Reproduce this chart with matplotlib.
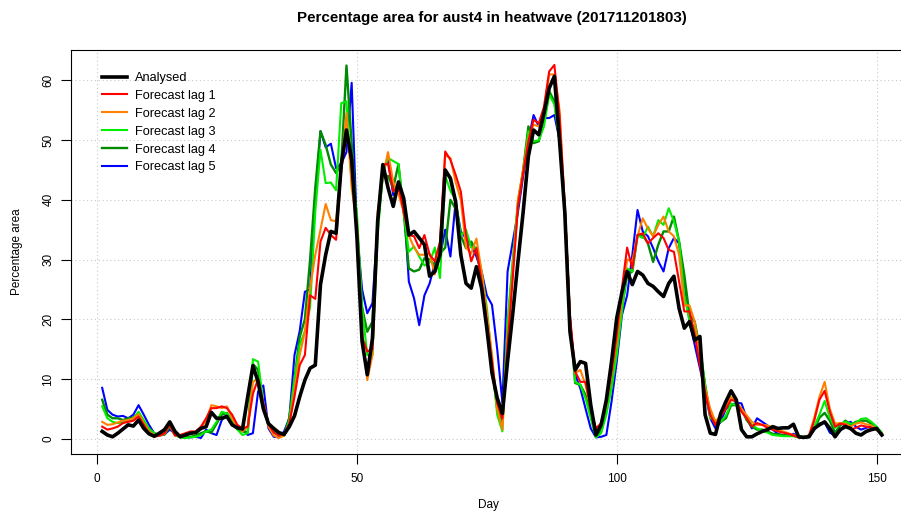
import numpy as np
import matplotlib
matplotlib.use("Agg")
import matplotlib.pyplot as plt

# ---------------------------------------------------------------
# data, day 1..151
# ---------------------------------------------------------------
days = list(range(1, 152))

analysed = [
    1.2, 0.6, 0.3, 0.9, 1.6, 2.3, 2.1, 3.1, 1.7, 0.8,
    0.4, 0.9, 1.5, 2.8, 1.2, 0.3, 0.6, 0.9, 1.0, 1.7,
    2.0, 4.4, 3.4, 3.4, 3.7, 2.3, 1.8, 1.6, 7.0, 12.2,
    9.5, 5.0, 2.5, 1.7, 1.0, 0.7, 2.0, 3.8, 7.0, 9.8,
    11.8, 12.3, 25.8, 30.8, 34.7, 34.4, 45.9, 51.7, 46.7, 34.0,
    16.3, 10.7, 16.8, 36.4, 45.9, 42.0, 38.9, 43.0, 40.3, 34.1,
    34.7, 33.6, 32.5, 27.2, 28.0, 30.8, 45.0, 43.6, 39.7, 30.8,
    26.0, 25.2, 28.8, 25.2, 18.5, 11.0, 6.8, 4.2, 13.0, 21.0,
    29.7, 38.0, 47.3, 51.7, 50.9, 54.5, 58.7, 60.7, 49.8, 38.0,
    17.9, 11.5, 12.9, 12.6, 5.6, 0.6, 2.3, 6.5, 12.9, 20.2,
    24.5, 28.0, 25.8, 28.0, 27.4, 26.0, 25.5, 24.6, 23.8, 26.0,
    27.2, 21.8, 18.5, 19.6, 16.5, 17.1, 4.0, 0.9, 0.7, 4.2,
    6.2, 8.0, 6.5, 1.5, 0.3, 0.3, 0.8, 1.2, 1.5, 2.0,
    1.7, 1.8, 1.8, 2.4, 0.3, 0.2, 0.3, 1.7, 2.3, 2.8,
    1.7, 0.3, 1.5, 2.0, 1.7, 0.9, 0.6, 1.2, 1.5, 1.7,
    0.6]

lag1 = [
    2.0, 1.5, 1.7, 2.0, 2.6, 2.8, 3.0, 3.7, 2.3, 0.9,
    0.3, 0.5, 0.9, 2.3, 0.5, 0.6, 0.9, 1.2, 1.2, 2.0,
    3.4, 5.1, 5.1, 5.4, 5.1, 4.0, 2.3, 1.7, 2.0, 7.5,
    10.0, 6.0, 2.5, 1.0, 0.5, 0.8, 2.5, 7.0, 12.3, 14.0,
    24.0, 23.4, 33.0, 35.3, 34.1, 33.3, 45.0, 51.2, 46.0, 35.0,
    17.0, 14.6, 15.0, 36.0, 45.9, 46.0, 41.4, 42.5, 38.0, 34.1,
    33.9, 31.9, 34.1, 30.8, 29.7, 33.0, 48.1, 46.7, 44.2, 41.4,
    34.1, 29.7, 31.9, 26.3, 19.6, 12.9, 6.0, 3.4, 15.7, 27.0,
    39.0, 44.5, 49.8, 53.4, 52.8, 55.6, 61.5, 62.6, 54.0, 39.0,
    20.7, 11.2, 9.5, 9.5, 5.0, 1.7, 2.6, 6.2, 11.2, 17.4,
    25.2, 32.0, 28.5, 34.1, 34.4, 32.7, 33.6, 34.4, 33.6, 31.6,
    31.3, 26.3, 21.3, 21.3, 17.4, 12.3, 7.8, 3.9, 2.3, 3.7,
    5.0, 6.5, 6.2, 4.5, 3.4, 2.0, 2.6, 2.3, 1.8, 1.5,
    1.2, 1.0, 0.8, 0.5, 0.2, 0.2, 0.5, 3.0, 6.5, 8.0,
    4.5, 2.0, 2.5, 2.3, 1.5, 1.8, 2.2, 2.0, 1.8, 1.5,
    0.8]

lag2 = [
    2.8, 2.3, 2.4, 2.7, 3.0, 3.1, 3.4, 4.1, 2.6, 1.2,
    0.6, 0.5, 0.8, 2.4, 0.6, 0.5, 0.7, 1.0, 1.1, 1.8,
    3.0, 5.6, 5.4, 5.1, 5.4, 3.4, 2.0, 1.2, 2.0, 9.5,
    10.0, 5.5, 2.0, 0.5, 0.1, 0.5, 2.5, 8.0, 14.0, 17.9,
    25.2, 30.8, 35.0, 39.3, 36.6, 36.4, 45.0, 54.5, 42.0, 36.0,
    18.0, 9.8, 14.0, 38.0, 44.0, 48.0, 43.0, 41.0, 38.0, 34.0,
    32.0, 30.8, 30.8, 31.0, 27.5, 32.0, 47.5, 47.0, 43.0, 40.0,
    32.0, 31.0, 33.5, 28.0, 21.0, 14.0, 5.0, 1.5, 16.8, 28.0,
    40.0, 45.0, 50.3, 52.6, 52.3, 55.0, 61.0, 61.0, 55.0, 39.0,
    20.0, 11.0, 11.5, 9.0, 5.0, 0.6, 2.3, 5.6, 10.7, 16.3,
    23.5, 30.0, 29.7, 33.9, 36.9, 35.2, 33.9, 35.8, 37.2, 34.7,
    33.9, 30.8, 22.3, 22.3, 19.6, 14.0, 8.4, 5.0, 2.8, 3.9,
    5.6, 7.0, 6.2, 5.0, 3.9, 2.8, 2.3, 2.3, 2.2, 1.8,
    1.5, 1.2, 0.9, 0.6, 0.2, 0.1, 0.6, 3.5, 7.0, 9.5,
    5.0, 2.5, 2.6, 2.5, 2.0, 2.5, 2.7, 2.4, 2.2, 1.6,
    0.8]

lag3 = [
    5.4, 3.4, 2.8, 2.6, 2.7, 3.1, 3.4, 4.5, 3.1, 1.7,
    0.9, 0.6, 0.9, 2.3, 0.6, 0.2, 0.1, 0.2, 0.3, 0.6,
    1.2, 1.5, 2.8, 4.5, 4.2, 2.8, 1.5, 0.6, 0.9, 13.3,
    12.9, 6.0, 2.5, 1.0, 0.5, 0.5, 3.0, 10.0, 15.7, 18.0,
    22.0, 38.0, 48.4, 42.8, 42.9, 41.6, 56.2, 56.5, 43.0, 38.0,
    22.0, 14.0, 14.0, 34.0, 44.5, 47.0, 46.5, 46.0, 38.0, 31.3,
    32.2, 30.5, 29.0, 29.5, 32.0, 26.9, 44.0, 41.5, 40.0, 34.0,
    35.0, 32.0, 32.0, 28.0, 22.0, 13.0, 4.0, 1.2, 19.6, 30.0,
    40.0, 45.0, 51.5, 49.8, 50.0, 52.3, 57.6, 56.0, 50.0, 38.6,
    20.0, 9.5, 9.0, 6.7, 3.4, 0.2, 0.9, 4.0, 8.4, 14.0,
    21.3, 28.5, 28.0, 34.1, 33.6, 35.5, 33.9, 36.6, 35.8, 38.6,
    36.4, 33.0, 24.1, 19.6, 18.5, 15.7, 9.0, 3.4, 3.1, 2.8,
    3.9, 5.9, 5.6, 4.8, 3.4, 2.3, 1.7, 1.3, 1.0, 0.6,
    0.5, 0.4, 0.4, 0.4, 0.2, 0.2, 0.5, 2.0, 4.0, 6.3,
    3.5, 1.8, 2.5, 2.8, 2.5, 2.6, 3.3, 3.4, 2.8, 2.0,
    1.0]

lag4 = [
    6.5, 4.0, 3.4, 3.4, 3.1, 3.4, 3.5, 4.2, 2.8, 1.5,
    0.8, 0.5, 0.7, 2.0, 0.6, 0.3, 0.2, 0.3, 0.5, 0.9,
    1.2, 1.0, 2.5, 4.0, 4.3, 2.8, 1.7, 1.2, 1.0, 12.5,
    11.5, 5.5, 2.3, 1.2, 0.6, 0.5, 3.5, 10.0, 17.0, 20.0,
    30.0, 42.0, 51.5, 49.2, 45.9, 44.5, 46.0, 62.5, 49.5, 36.0,
    22.0, 17.9, 19.6, 36.0, 44.0, 44.0, 42.0, 46.0, 38.0, 28.5,
    28.0, 28.3, 30.2, 30.0, 29.0, 31.0, 32.0, 40.0, 38.5, 34.0,
    31.9, 33.0, 31.5, 27.0, 20.0, 12.0, 5.0, 2.8, 19.0, 29.0,
    39.0, 45.0, 52.3, 49.5, 49.8, 53.1, 58.2, 56.5, 50.0, 38.6,
    20.0, 9.3, 9.0, 7.3, 3.9, 0.3, 1.2, 5.0, 9.0, 15.1,
    21.8, 27.4, 28.0, 34.1, 34.1, 32.7, 29.6, 32.5, 34.7, 34.7,
    37.2, 33.0, 27.4, 20.7, 19.6, 15.0, 9.0, 4.0, 2.3, 2.8,
    3.4, 5.6, 5.6, 5.0, 3.1, 2.0, 1.5, 1.5, 1.2, 0.8,
    0.7, 0.6, 0.5, 0.5, 0.3, 0.3, 0.5, 1.5, 3.5, 4.3,
    3.0, 1.0, 2.2, 3.0, 2.3, 2.8, 3.0, 3.0, 2.5, 1.6,
    0.8]

lag5 = [
    8.5, 4.8, 4.0, 3.7, 3.8, 3.4, 4.0, 5.6, 4.0, 2.3,
    0.9, 0.6, 0.7, 1.5, 0.9, 0.3, 0.2, 0.2, 0.3, 0.1,
    1.5, 0.9, 0.6, 3.1, 4.0, 2.6, 2.0, 1.7, 0.6, 0.9,
    7.9, 8.9, 1.7, 0.3, 0.2, 1.2, 3.4, 14.0, 18.0, 24.6,
    25.0, 40.0, 51.5, 48.8, 49.4, 45.3, 46.1, 48.0, 59.6, 35.0,
    25.0, 21.0, 22.7, 36.0, 45.0, 46.7, 40.8, 41.5, 40.0, 26.3,
    23.5, 19.0, 24.0, 26.0, 29.4, 30.5, 35.0, 30.5, 39.7, 34.7,
    33.5, 32.5, 30.5, 28.0, 24.0, 22.4, 15.0, 6.0, 28.0, 33.0,
    38.0, 44.0, 50.0, 54.2, 52.3, 53.7, 53.7, 54.2, 50.0, 38.6,
    20.0, 10.7, 8.4, 5.0, 1.7, 0.2, 0.3, 0.6, 6.2, 12.9,
    20.7, 24.0, 30.8, 38.3, 34.7, 33.9, 31.9, 29.7, 28.0, 31.9,
    33.6, 32.7, 26.3, 19.6, 15.7, 11.8, 7.9, 3.4, 1.7, 2.8,
    5.0, 5.6, 6.0, 5.9, 3.4, 1.7, 3.4, 2.8, 2.2, 1.5,
    0.8, 0.5, 0.5, 0.8, 0.3, 0.2, 0.3, 1.5, 2.5, 2.7,
    1.0, 0.5, 1.3, 2.5, 2.8, 2.0, 1.5, 1.8, 2.0, 1.5,
    0.8]

series_labels = ['Analysed', 'Forecast lag 1', 'Forecast lag 2',
                 'Forecast lag 3', 'Forecast lag 4', 'Forecast lag 5']
x_ticks = [0, 50, 100, 150]
y_ticks = [0, 10, 20, 30, 40, 50, 60]

# ---------------------------------------------------------------
# plot
# ---------------------------------------------------------------
plt.rcParams['font.family'] = ['Liberation Sans', 'DejaVu Sans']

fig = plt.figure(figsize=(9.01, 5.13), dpi=100)
ax = fig.add_axes([71 / 901, 59.5 / 513, 842 / 901, 403.5 / 513])

styles = [  # (data, colour, width) - drawn lag 5 first, analysed on top
    (lag5, '#0000FF', 1.5),
    (lag4, '#008B00', 1.7),
    (lag3, '#00EE00', 1.5),
    (lag2, '#FF8000', 1.5),
    (lag1, '#FF0000', 1.5),
]
lines = {}
for (vals, col, lw), lab in zip(styles, series_labels[:0:-1]):
    lines[lab], = ax.plot(days, vals, color=col, linewidth=lw)
lines['Analysed'], = ax.plot(days, analysed, color='black', linewidth=2.6)

ax.set_xlim(-5, 157)
ax.set_ylim(-2.5, 65.1)
ax.set_xticks(x_ticks)
ax.set_yticks(y_ticks)
ax.grid(True, color='#C8C8C8', linestyle=(0, (1, 2.5)), linewidth=0.8)
ax.set_axisbelow(True)

ax.tick_params(direction='out', length=7, width=0.8, labelsize=8.5)
ax.tick_params(axis='x', pad=7)
ax.tick_params(axis='y', pad=5)
for t in ax.get_yticklabels():
    t.set_rotation(90)
    t.set_va('center')
for s in ax.spines.values():
    s.set_linewidth(0.8)

fig.text(488 / 901, 1 - 505 / 513, 'Day', ha='center', va='center', fontsize=8.5)
ax.set_ylabel('Percentage area', fontsize=8.5, labelpad=14)
fig.text(492 / 901, 1 - 18 / 513, 'Percentage area for aust4 in heatwave (201711201803)',
         ha='center', va='center', fontsize=10.9, fontweight='bold')

ax.legend([lines[l] for l in series_labels], series_labels, loc='upper left',
          bbox_to_anchor=(0.031, 0.958), frameon=False, fontsize=9.2,
          handlelength=1.95, handletextpad=0.6, labelspacing=0.46, borderaxespad=0)

fig.savefig('out.png', dpi=100)
